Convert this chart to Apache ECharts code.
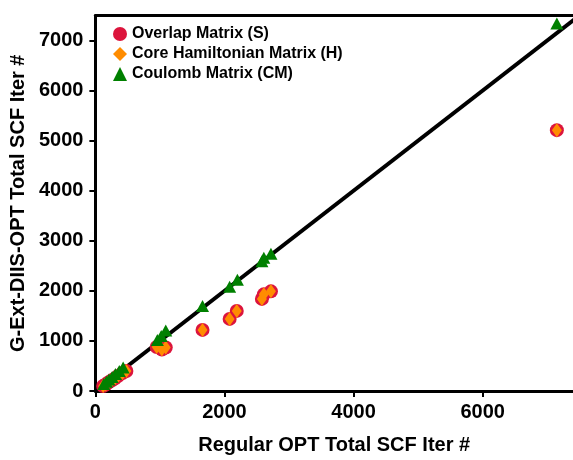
<!DOCTYPE html>
<html>
<head>
<meta charset="utf-8">
<script src="https://cdn.jsdelivr.net/npm/echarts@6/dist/echarts.min.js"></script>
<style>html,body{margin:0;padding:0;background:#fff}#c{width:573px;height:460px}</style>
</head>
<body>
<div id="c"></div>
<script>
var overlapX = [120, 160, 200, 250, 300, 350, 420, 480, 950, 1030, 1090, 1660, 2080, 2190, 2580, 2610, 2720, 7150];
var overlapY = [100, 130, 170, 210, 250, 300, 360, 400, 880, 830, 870, 1220, 1440, 1600, 1840, 1930, 1990, 5210];
var coreX = [120, 160, 200, 250, 300, 350, 420, 480, 950, 1030, 1090, 1660, 2080, 2190, 2580, 2610, 2720, 7150];
var coreY = [100, 130, 170, 210, 250, 300, 360, 400, 880, 830, 870, 1220, 1440, 1600, 1840, 1930, 1990, 5210];
var coulombX = [130, 170, 210, 260, 310, 370, 430, 960, 1020, 1090, 1660, 2080, 2200, 2580, 2610, 2720, 7150];
var coulombY = [140, 185, 230, 280, 340, 400, 470, 1020, 1100, 1210, 1700, 2080, 2220, 2590, 2660, 2740, 7340];
var xTicks = [0, 2000, 4000, 6000];
var yTicks = [0, 1000, 2000, 3000, 4000, 5000, 6000, 7000];
var refLineX = [0, 7500];
var refLineY = [0, 7500];

function pairs(xs, ys) { return xs.map(function (v, i) { return [v, ys[i]]; }); }
function plain(v) { return String(v); }

var FONT = "'Liberation Sans', Arial, sans-serif";
var chart = echarts.init(document.getElementById('c'), null, {renderer: 'canvas'});
var axisLine = {show: true, onZero: false, lineStyle: {color: '#000', width: 3}};
chart.setOption({
  animation: false,
  backgroundColor: '#fff',
  grid: {left: 92, right: 0, top: 15.5, bottom: 62, containLabel: false},
  legend: {
    orient: 'vertical', left: 108, top: 21, itemGap: 4,
    itemWidth: 14, itemHeight: 14,
    textStyle: {fontFamily: FONT, fontWeight: 'bold', fontSize: 16, color: '#000', lineHeight: 16},
    data: ['Overlap Matrix (S)', 'Core Hamiltonian Matrix (H)', 'Coulomb Matrix (CM)']
  },
  xAxis: [{
    type: 'value', min: 0, max: 7400, position: 'bottom',
    name: 'Regular OPT Total SCF Iter #', nameLocation: 'middle', nameGap: 44,
    nameTextStyle: {fontFamily: FONT, fontWeight: 'bold', fontSize: 20, color: '#000'},
    axisLine: axisLine,
    axisTick: {show: true, length: 6, lineStyle: {color: '#000', width: 2}, customValues: xTicks},
    axisLabel: {fontFamily: FONT, fontWeight: 'bold', fontSize: 20, color: '#000', margin: 11, customValues: xTicks, formatter: plain},
    splitLine: {show: false}
  }, {
    type: 'value', min: 0, max: 7400, position: 'top',
    axisLine: axisLine, axisTick: {show: false}, axisLabel: {show: false}, splitLine: {show: false}
  }],
  yAxis: {
    type: 'value', min: 0, max: 7500,
    name: 'G-Ext-DIIS-OPT Total SCF Iter #', nameLocation: 'middle', nameGap: 54,
    nameTextStyle: {fontFamily: FONT, fontWeight: 'bold', fontSize: 20, color: '#000'},
    axisLine: axisLine,
    axisTick: {show: true, length: 6, lineStyle: {color: '#000', width: 2}, customValues: yTicks},
    axisLabel: {fontFamily: FONT, fontWeight: 'bold', fontSize: 20, color: '#000', margin: 12, customValues: yTicks, formatter: plain},
    splitLine: {show: false}
  },
  series: [{
    type: 'line', data: pairs(refLineX, refLineY), symbol: 'none', silent: true, clip: true,
    lineStyle: {color: '#000', width: 4}, z: 1
  }, {
    name: 'Overlap Matrix (S)', type: 'scatter', data: pairs(overlapX, overlapY),
    symbol: 'circle', symbolSize: 14, itemStyle: {color: '#dc143c', opacity: 1}, z: 2
  }, {
    name: 'Core Hamiltonian Matrix (H)', type: 'scatter', data: pairs(coreX, coreY),
    symbol: 'diamond', symbolSize: [10, 14], itemStyle: {color: '#ff8c00', opacity: 1}, z: 3
  }, {
    name: 'Coulomb Matrix (CM)', type: 'scatter', data: pairs(coulombX, coulombY),
    symbol: 'triangle', symbolSize: [13, 12], itemStyle: {color: '#008000', opacity: 1}, z: 4
  }]
});
</script>
</body>
</html>
